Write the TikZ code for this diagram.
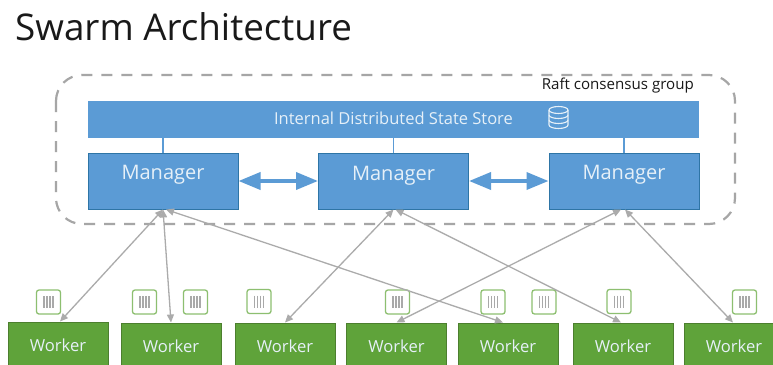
\documentclass[tikz,border=0pt]{standalone}
\usepackage{fontspec}
\setmainfont{Open Sans}
\usetikzlibrary{arrows.meta,calc}
\definecolor{bluefill}{HTML}{5B9BD5}
\definecolor{blueedge}{HTML}{2E75A6}
\definecolor{greenfill}{HTML}{5FA33A}
\definecolor{greenedge}{HTML}{4C7F2E}
\definecolor{iconedge}{HTML}{8DBF70}
\definecolor{iconbar}{HTML}{A9A9A9}
\definecolor{linkgray}{HTML}{ABABAB}
\definecolor{dashgray}{HTML}{A6A6A6}
\definecolor{paletext}{HTML}{E6F0F8}
\tikzset{
  x=1pt,y=-1pt,
  store/.style={fill=bluefill,draw=none,minimum width=611pt,minimum height=37pt,inner sep=0pt},
  mgr/.style={fill=bluefill,draw=blueedge,line width=1pt,minimum width=150pt,minimum height=56pt,inner sep=0pt},
  mgrtext/.style={text=paletext,font=\fontsize{20}{22}\selectfont,inner sep=0pt},
  worker/.style={fill=greenfill,draw=greenedge,line width=1pt,minimum width=100pt,minimum height=46pt,inner sep=0pt,text=paletext,font=\fontsize{16.6}{19}\selectfont},
  icon/.style={fill=white,draw=iconedge,line width=1.3pt,rounded corners=2.5pt,minimum width=24pt,minimum height=24pt,inner sep=0pt},
  link/.style={draw=linkgray,line width=1.3pt,{Triangle[length=8pt,width=7pt]}-{Triangle[length=8pt,width=7pt]}},
  peer/.style={draw=bluefill,line width=3.6pt,{Triangle[length=22pt,width=17pt]}-{Triangle[length=22pt,width=17pt]}},
  tie/.style={draw=bluefill,line width=1.6pt},
}
\newcommand{\iconbars}[1]{%
  \foreach \dx in {-4.5,-1.5,1.5,4.5}
    \draw[iconbar,line width=1.1pt] ($(#1)+(\dx,-6)$) -- ($(#1)+(\dx,6)$);}
\begin{document}
\begin{tikzpicture}
\useasboundingbox (0,0) rectangle (773,364);
\clip (0,0) rectangle (773,364);
\fill[white] (0,0) rectangle (773,364);

\node[anchor=base west,inner sep=0pt,font=\fontsize{36.8}{40}\selectfont,text=black!90] (title) at (15,40) {Swarm Architecture};

\draw[dashgray,line width=2.2pt,rounded corners=26pt,dash pattern=on 11pt off 9pt] (56,75) rectangle (735,224);

\node[anchor=mid east,inner sep=0pt,font=\fontsize{15.1}{18}\selectfont,text=black!90] (raft) at (694,87) {Raft consensus group};

\node[store] (store) at (393.5,119.5) {};
\node[text=paletext,inner sep=0pt,font=\fontsize{16.5}{19}\selectfont] (storetext) at (393.5,118) {Internal Distributed State Store};

% database icon
\draw[paletext,line width=1.1pt] (549,110) -- (549,125) arc[start angle=180,end angle=360,x radius=9.5,y radius=-3.5] -- (568,110);
\draw[paletext,line width=1.1pt] (558.5,110) ellipse[x radius=9.5,y radius=3.5];
\draw[paletext,line width=1.1pt] (549,115) arc[start angle=180,end angle=360,x radius=9.5,y radius=-3.5];
\draw[paletext,line width=1.1pt] (549,120) arc[start angle=180,end angle=360,x radius=9.5,y radius=-3.5];

\node[mgr] (m1) at (163,181) {};
\node[mgr] (m2) at (393.5,181) {};
\node[mgr] (m3) at (624,181) {};
\node[mgrtext] (m1t) at (163,174.5) {Manager};
\node[mgrtext] (m2t) at (393.5,175.5) {Manager};
\node[mgrtext] (m3t) at (624,174.5) {Manager};

\draw[tie] (store.south -| m1.north) -- (m1.north);
\draw[tie] (store.south -| m2.north) -- (m2.north);
\draw[tie] (store.south -| m3.north) -- (m3.north);

\draw[peer] (m1.east) -- (m2.west);
\draw[peer] (m2.east) -- (m3.west);

\node[worker] (w1) at (58,345) {Worker};
\node[worker] (w2) at (171,346) {Worker};
\node[worker] (w3) at (285,346) {Worker};
\node[worker] (w4) at (396.5,346) {Worker};
\node[worker] (w5) at (508,346) {Worker};
\node[worker] (w6) at (623,346) {Worker};
\node[worker] (w7) at (734,346) {Worker};

\node[icon] (i1) at (48.5,302) {}; \iconbars{i1}
\node[icon] (i2) at (144.5,302) {}; \iconbars{i2}
\node[icon] (i3) at (195.5,302) {}; \iconbars{i3}
\node[icon] (i4) at (259,301.5) {}; \iconbars{i4}
\node[icon] (i5) at (397.5,302) {}; \iconbars{i5}
\node[icon] (i6) at (493,302) {}; \iconbars{i6}
\node[icon] (i7) at (544,302) {}; \iconbars{i7}
\node[icon] (i8) at (619,301.5) {}; \iconbars{i8}
\node[icon] (i9) at (744.5,302) {}; \iconbars{i9}

\draw[link] (m1.south) -- ([xshift=2pt]w1.north);
\draw[link] (m1.south) -- (w2.north);
\draw[link] ([xshift=3pt]m1.south) -- ([xshift=-5pt]w5.north);
\draw[link] (m2.south) -- (w3.north);
\draw[link] ([xshift=2pt]m2.south) -- ([xshift=-2pt]w6.north);
\draw[link] ([xshift=-3pt]m3.south) -- (w4.north);
\draw[link] ([xshift=1pt]m3.south) -- ([xshift=-1pt]w7.north);
\end{tikzpicture}
\end{document}
